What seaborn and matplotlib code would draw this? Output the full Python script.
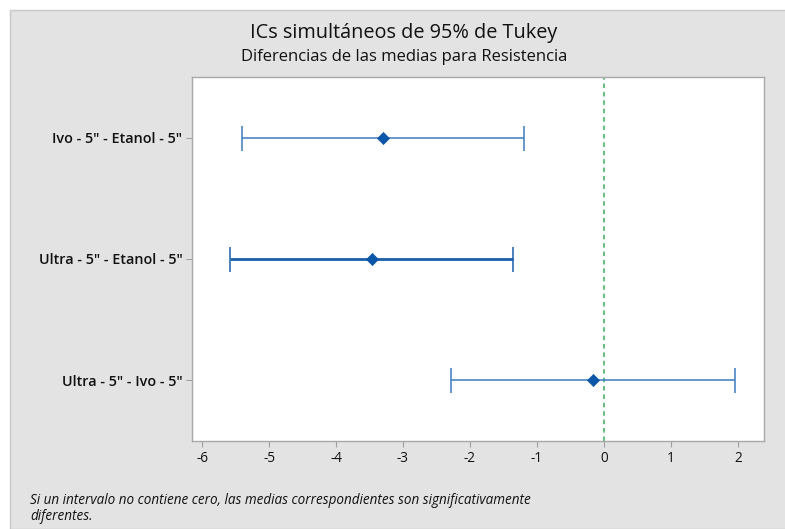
import matplotlib
matplotlib.use("Agg")
import matplotlib.pyplot as plt
from matplotlib.patches import Rectangle
import seaborn as sns
import pandas as pd

# Tukey simultaneous 95% confidence intervals for differences of means
comparisons = ['Ivo - 5" - Etanol - 5"', 'Ultra - 5" - Etanol - 5"', 'Ultra - 5" - Ivo - 5"']
centers = [-3.30, -3.46, -0.17]
lower = [-5.41, -5.58, -2.28]
upper = [-1.19, -1.36, 1.95]
x_ticks = [-6, -5, -4, -3, -2, -1, 0, 1, 2]

df = pd.DataFrame({"comp": comparisons, "center": centers, "lower": lower, "upper": upper})
df["pos"] = range(len(df))

sns.set_theme(style="white")
plt.rcParams["font.family"] = ["Open Sans", "DejaVu Sans"]

panel = "#e3e3e3"
line_blue = "#3a7cc0"
dark_blue = "#0a56a8"

fig = plt.figure(figsize=(7.85, 5.29), dpi=100)
fig.patch.set_facecolor("white")
# grey panel behind the chart
fig.patches.append(Rectangle((10 / 785, 0), 1, 1 - 10 / 529,
                             transform=fig.transFigure, facecolor=panel,
                             edgecolor="#c8c8c8", linewidth=1.0, zorder=-10))

ax = fig.add_axes([192 / 785, 1 - 441 / 529, (764 - 192) / 785, (441 - 77) / 529])
ax.set_facecolor("white")

widths = [1.1, 2.0, 1.1]
colors = [line_blue, "#1a5fa8", line_blue]
for i, row in df.iterrows():
    ax.errorbar(row["center"], row["pos"],
                xerr=[[row["center"] - row["lower"]], [row["upper"] - row["center"]]],
                fmt="none", ecolor=colors[i], elinewidth=widths[i],
                capsize=9, capthick=1.1, zorder=2)

sns.scatterplot(data=df, x="center", y="pos", marker="D", s=38, color=dark_blue,
                edgecolor=dark_blue, linewidth=0.5, ax=ax, zorder=3, legend=False)

ax.axvline(0, color="#3cae5a", linestyle=(0, (3, 2.5)), linewidth=1.1, zorder=1)

ax.set_xlim(-6.15, 2.39)
ax.set_ylim(2.5, -0.5)
ax.set_xticks(x_ticks)
ax.set_xticklabels([str(t) for t in x_ticks])
ax.set_yticks(df["pos"])
ax.set_yticklabels(comparisons, fontweight="semibold", fontsize=10.4)
ax.set_xlabel("")
ax.set_ylabel("")
ax.tick_params(axis="both", which="both", length=4, width=0.8, color="#a0a0a0",
               labelcolor="#111111", pad=3, direction="out",
               bottom=True, left=True)
ax.tick_params(axis="x", labelsize=9.8)
for s in ax.spines.values():
    s.set_color("#a8a8a8")
    s.set_linewidth(1.0)

fig.text(404 / 785, 1 - 33 / 529, "ICs simultáneos de 95% de Tukey",
         ha="center", va="center", fontsize=14.3, fontweight="medium", color="#111111")
fig.text(404 / 785, 1 - 57 / 529, "Diferencias de las medias para Resistencia",
         ha="center", va="center", fontsize=12, fontweight="medium", color="#111111")

fig.text(30 / 785, 1 - 500 / 529,
         "Si un intervalo no contiene cero, las medias correspondientes son significativamente",
         ha="left", va="center", fontsize=9.75, style="italic", color="#111111")
fig.text(30 / 785, 1 - 517 / 529, "diferentes.",
         ha="left", va="center", fontsize=9.75, style="italic", color="#111111")

fig.savefig("out.png", dpi=100, facecolor=fig.get_facecolor())
